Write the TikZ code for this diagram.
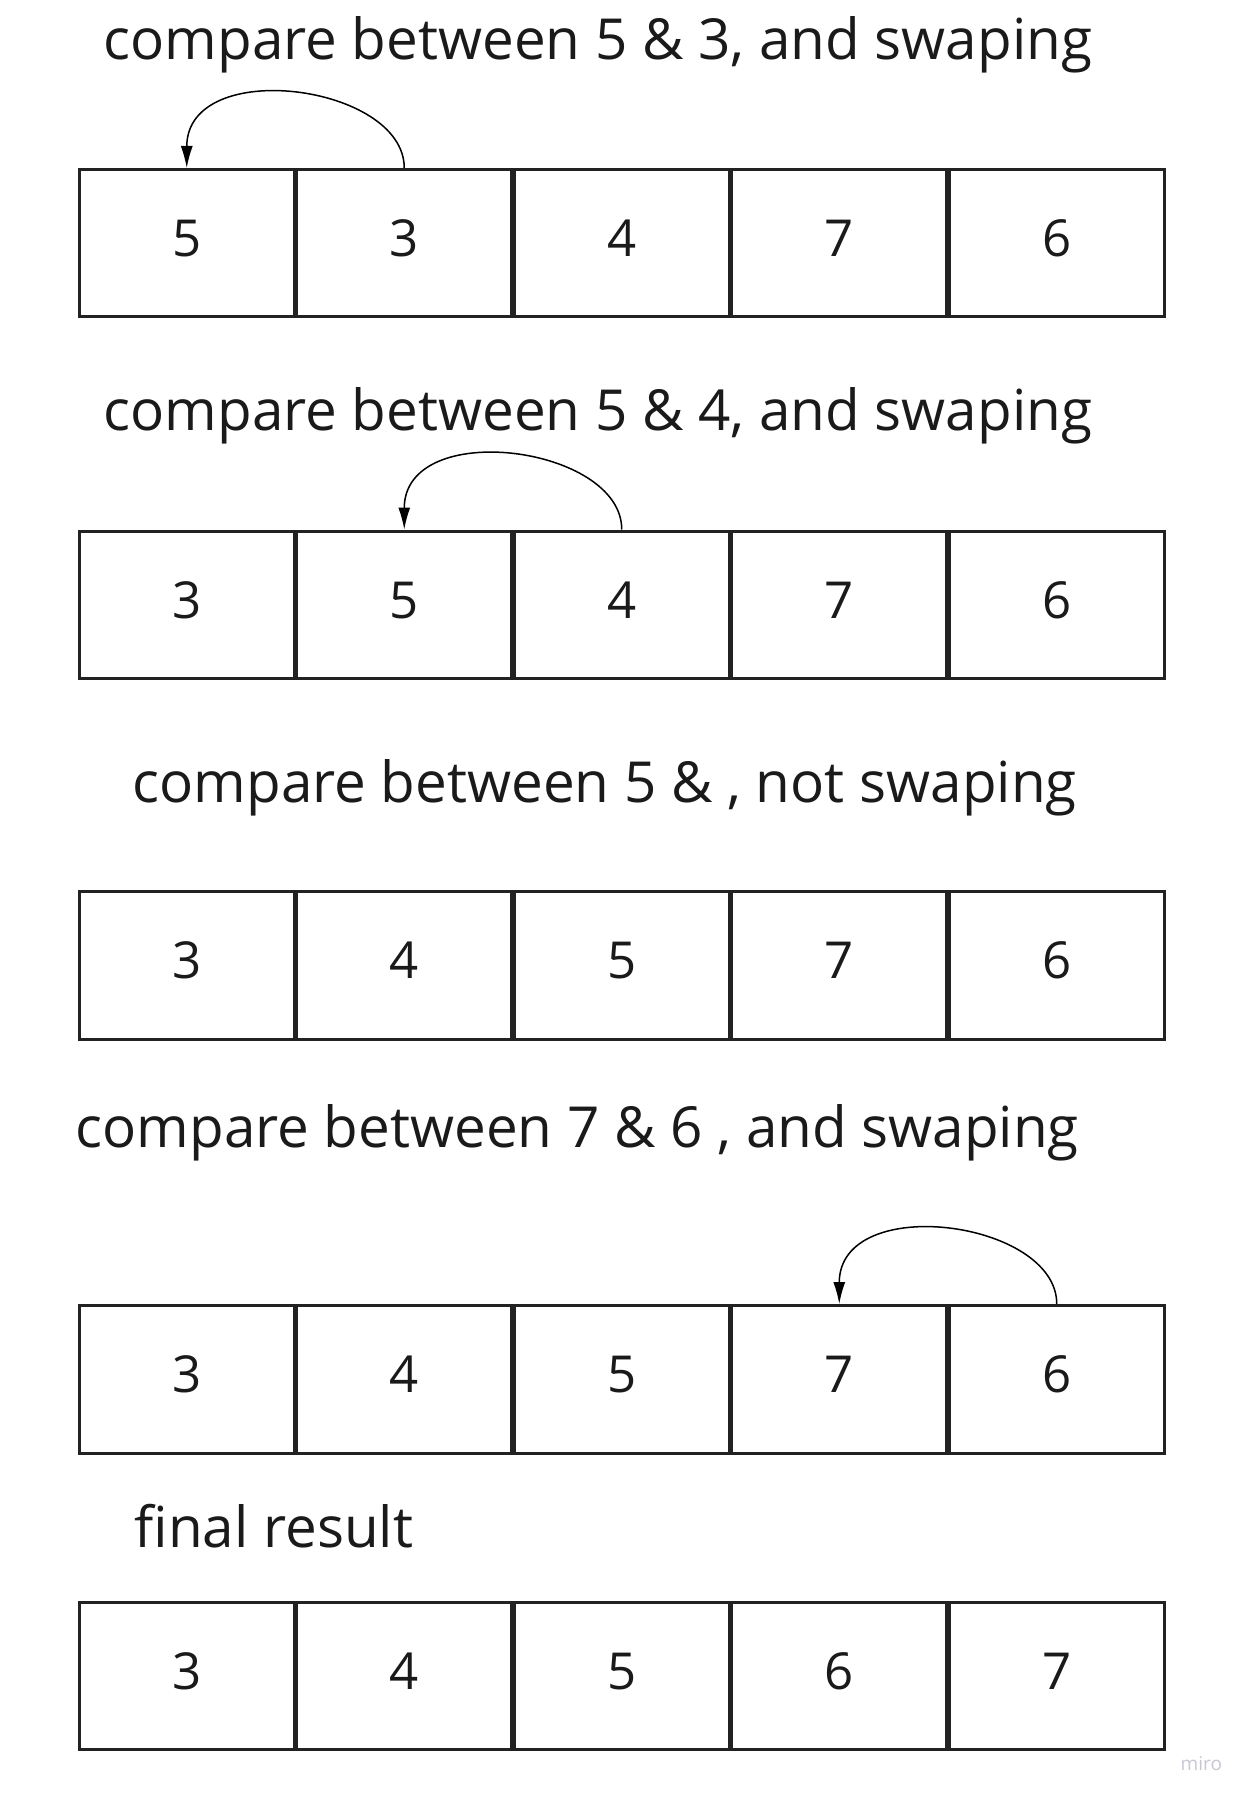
\documentclass[tikz,border=0pt]{standalone}
\usepackage{fontspec}
\setmainfont{Open Sans}
\usetikzlibrary{arrows.meta}
\definecolor{ink}{HTML}{1A1A1A}
\definecolor{boxline}{HTML}{222222}
\definecolor{wmgray}{HTML}{C8C8D2}
\begin{document}
\begin{tikzpicture}[x=0.1mm,y=-0.1mm,
 cell/.style={draw=boxline, line width=0.3mm, minimum width=21.5mm, minimum height=14.75mm,
   inner sep=0pt, text height=3.7mm, text depth=1mm, font=\fontsize{14.5}{17}\selectfont, text=ink},
 caption/.style={anchor=base west, inner sep=0pt, font=\fontsize{16.1}{20}\selectfont, text=ink},
 swaparrow/.style={draw=black, line width=0.15mm, -{Latex[length=2.2mm,width=1.2mm]}}]
\fill[white] (0,0) rectangle (1250,1800);
\useasboundingbox (0,0) rectangle (1250,1800);

\foreach \r/\y/\a/\b/\c/\d/\e in {1/243.25/5/3/4/7/6, 2/604.75/3/5/4/7/6, 3/965.25/3/4/5/7/6, 4/1379.25/3/4/5/7/6, 5/1675.75/3/4/5/6/7}{
  \foreach \v [count=\i] in {\a,\b,\c,\d,\e}{
    \node[cell] (r\r-\i) at ({186.75+217.5*(\i-1)},\y) {\v};
  }
}

\node[caption] (cap1) at (103,60) {compare between 5 \& 3, and swaping};
\node[caption] (cap2) at (103,431) {compare between 5 \& 4, and swaping};
\node[caption] (cap3) at (132,802) {compare between 5 \& , not swaping};
\node[caption] (cap4) at (75,1147) {compare between 7 \& 6 , and swaping};
\node[caption] (cap5) at (134,1547) {final result};
\node[anchor=base west, inner sep=0pt, font=\fontsize{5.4}{6}\selectfont, text=wmgray] (wm) at (1180,1770) {miro};

\draw[swaparrow] (r1-2.north) .. controls +(0,-84) and +(0,-112) .. (r1-1.north);
\draw[swaparrow] (r2-3.north) .. controls +(0,-84) and +(0,-112) .. (r2-2.north);
\draw[swaparrow] (r4-5.north) .. controls +(0,-84) and +(0,-112) .. (r4-4.north);
\end{tikzpicture}
\end{document}
